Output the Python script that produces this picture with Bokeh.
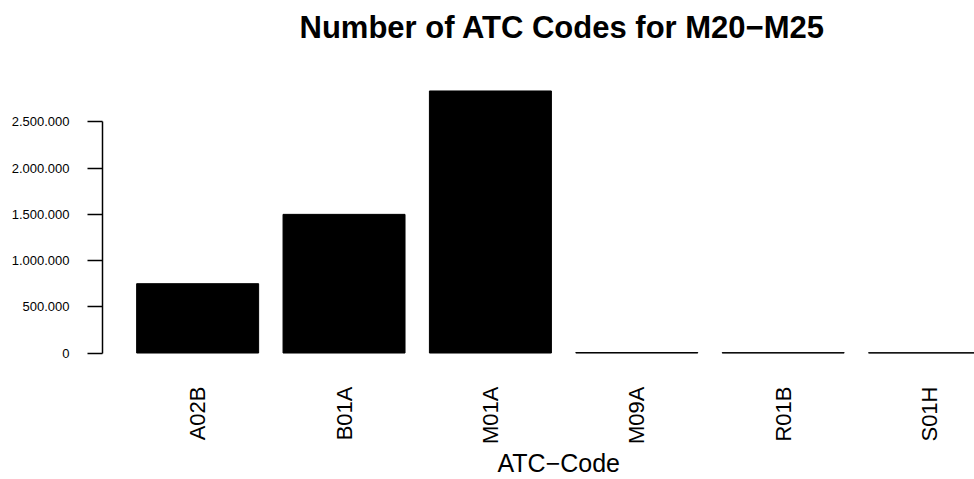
import math
from bokeh.plotting import figure
from bokeh.models import Range1d, FixedTicker, Title
from bokeh.embed import file_html
from bokeh.resources import INLINE

categories = ["A02B", "B01A", "M01A", "M09A", "R01B", "S01H"]
counts = [750000, 1500000, 2835000, 5000, 4000, 3000]
y_ticks = [0, 500000, 1000000, 1500000, 2000000, 2500000]
y_tick_labels = ["0", "500.000", "1.000.000", "1.500.000", "2.000.000", "2.500.000"]
title_text = "Number of ATC Codes for M20\u2212M25"
x_title = "ATC\u2212Code"

FONT = "Liberation Sans"
n = len(categories)
space, width = 0.2, 1.0
lefts = [space + i * (space + width) for i in range(n)]
centers = [l + width / 2 for l in lefts]
xlo, xhi = min(lefts), max(lefts) + width
ext = 0.04 * (xhi - xlo)
r_xlo, r_xhi = xlo - ext, xhi + ext
ymax = max(counts)

W, H = 974, 479
ml, mr, mt, mb = 102, 0, 80, 116
frame_w = W - ml - mr
full_w = 922.2  # width R's plot region would have had
x_end = r_xlo + (r_xhi - r_xlo) * frame_w / full_w

p = figure(width=W, height=H, output_backend="svg", toolbar_location=None,
           x_range=Range1d(r_xlo, x_end),
           y_range=Range1d(-0.04 * ymax, 1.04 * ymax),
           min_border_left=ml, min_border_right=mr, min_border_top=mt, min_border_bottom=mb)
p.outline_line_color = None
p.grid.visible = False
p.background_fill_color = "white"
p.border_fill_color = "white"

p.vbar(x=centers, top=counts, bottom=0, width=width, fill_color="black", line_color="black", line_width=1)

p.title.text = title_text
p.title.text_font = FONT
p.title.text_font_size = "31px"
p.title.text_font_style = "bold"
p.title.align = "left"
p.title.vertical_align = "bottom"
p.title.offset = 197
p.title.standoff = 0
p.title.padding = dict(left=0, right=0, top=0, bottom=36)
p.title.text_color = "black"

xa = p.xaxis[0]
xa.ticker = FixedTicker(ticks=centers)
xa.major_label_overrides = {c: lab for c, lab in zip(centers, categories)}
xa.major_label_orientation = math.pi / 2
xa.axis_line_color = None
xa.major_tick_line_color = None
xa.major_tick_out = 0
xa.major_tick_in = 0
xa.minor_tick_line_color = None
xa.major_label_text_font = FONT
xa.major_label_text_font_size = "22px"
xa.major_label_text_color = "black"
xa.major_label_standoff = 23

ya = p.yaxis[0]
ya.ticker = FixedTicker(ticks=y_ticks)
ya.major_label_overrides = {t: lab for t, lab in zip(y_ticks, y_tick_labels)}
ya.bounds = (min(y_ticks), max(y_ticks))
ya.axis_line_color = "black"
ya.axis_line_width = 1.5
ya.major_tick_line_color = "black"
ya.major_tick_line_width = 1.5
ya.major_tick_out = 15
ya.major_tick_in = 0
ya.minor_tick_line_color = None
ya.major_label_text_font = FONT
ya.major_label_text_font_size = "13px"
ya.major_label_text_color = "black"
ya.major_label_standoff = 18
ya.major_label_orientation = "horizontal"

xt = Title(text=x_title, text_font=FONT, text_font_size="25px", text_font_style="normal",
           text_color="black", align="left", vertical_align="bottom", offset=395, standoff=0)
p.add_layout(xt, "below")

open("out.html", "w").write(file_html(p, INLINE))
